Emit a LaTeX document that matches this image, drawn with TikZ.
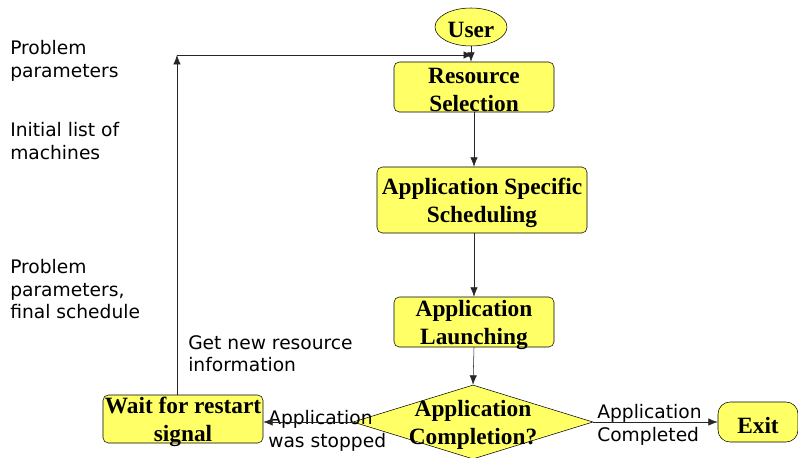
\documentclass[tikz,border=0pt]{standalone}
\usepackage{fontspec}
\usepackage{tikz}
\usetikzlibrary{arrows.meta, shapes.geometric, calc}
\newfontfamily\boxfont{Liberation Serif}
\newfontfamily\notefont{DejaVu Sans}
\definecolor{boxyellow}{RGB}{255,255,102}
\tikzset{
  stepbox/.style={rectangle, rounded corners=4pt, draw, fill=boxyellow, inner sep=0pt},
  boxtext/.style={align=center, inner sep=0pt, yshift=-2.4pt,
    font=\boxfont\bfseries\fontsize{17.5}{21}\selectfont},
  note/.style={align=left, inner sep=0pt, anchor=north west, font=\notefont\fontsize{14}{17}\selectfont},
  flow/.style={->, >={Latex[length=7pt,width=5.5pt]}, thin, black!85}
}

\begin{document}
\begin{tikzpicture}[x=0.75pt, y=-0.75pt]
% Fix the frame
\useasboundingbox (0,0) rectangle (798,457);

% Main chain
\node[ellipse, draw, fill=boxyellow, inner sep=0pt, minimum width=54pt, minimum height=28.5pt] (user) at (471,27) {};
\node[boxtext] (usertext) at (user.center) {User};
\node[stepbox, minimum width=120pt, minimum height=37.5pt] (select) at (474,87) {};
\node[boxtext] (selecttext) at (select.center) {Resource\\Selection};
\node[stepbox, minimum width=157.5pt, minimum height=49.5pt] (sched) at (482,200) {};
\node[boxtext] (schedtext) at (sched.center) {Application Specific\\Scheduling};
\node[stepbox, minimum width=120pt, minimum height=37.5pt] (launch) at (474,322) {};
\node[boxtext] (launchtext) at (launch.center) {Application\\Launching};
\node[diamond, draw, fill=boxyellow, inner sep=0pt, minimum width=180pt, minimum height=55.5pt] (done) at (473,422) {};
\node[boxtext] (donetext) at (done.center) {Application\\Completion?};
\node[stepbox, minimum width=120pt, minimum height=36pt] (wait) at (183,419) {};
\node[boxtext] (waittext) at (wait.center) {Wait for restart\\signal};
\node[stepbox, rounded corners=9pt, minimum width=60pt, minimum height=30pt] (exit) at (758,422) {};
\node[boxtext] (exittext) at (exit.center) {Exit};

% Side notes
\node[note] (note1) at (10,40) {Problem\\parameters};
\node[note] (note2) at (10,122) {Initial list of\\machines};
\node[note] (note3) at (10,259) {Problem\\parameters,\\final schedule};
\node[note] (note4) at (188,335) {Get new resource\\information};
\node[note] (note5) at (268,410) {Application\\was stopped};
\node[note] (note6) at (597,404) {Application\\Completed};

% Connectors
\coordinate (fbcorner) at (177,55);
\coordinate (fbjoin) at (473,55);
\draw[flow] (user.south) -- (user.south |- select.north);
\draw[flow] (select.south) -- (select.south |- sched.north);
\draw[flow] (sched.south -| launch.north) -- (launch.north);
\draw[flow] (launch.south) -- (done.north);
\draw[flow] (done.west) -- (done.west -| wait.east);
\draw[flow] (done.east) -- (done.east -| exit.west);
\draw[flow] (wait.north -| fbcorner) -- (fbcorner);
\draw[flow] (fbcorner) -- (fbjoin);
\end{tikzpicture}
\end{document}
